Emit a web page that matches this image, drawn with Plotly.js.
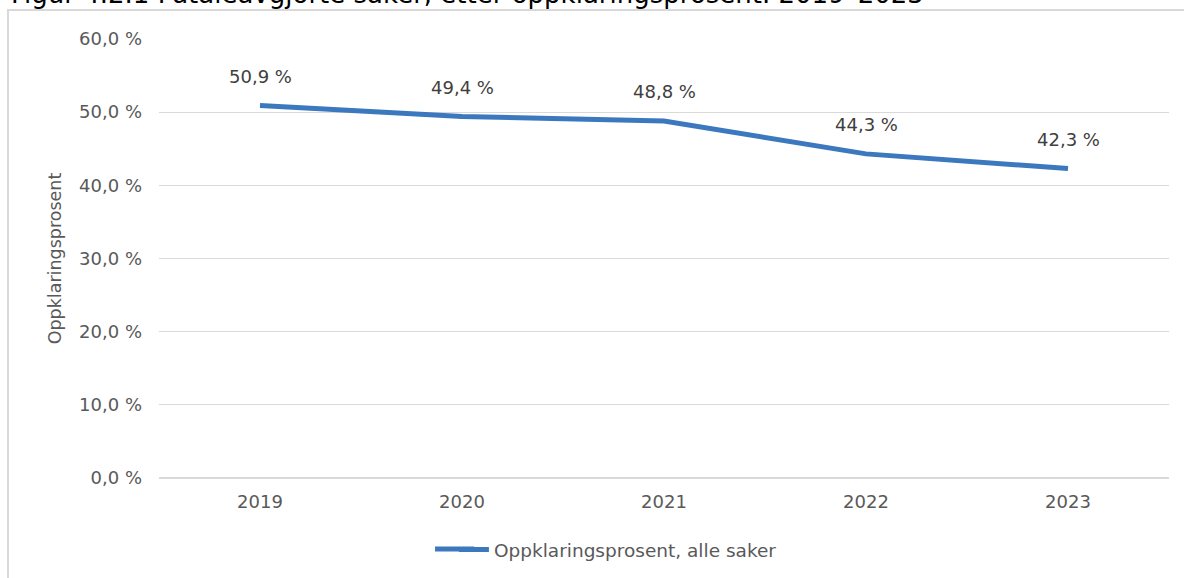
<!DOCTYPE html>
<html>
<head>
<meta charset="utf-8">
<script src="https://cdn.plot.ly/plotly-3.0.1.min.js"></script>
<style>
html,body{margin:0;padding:0;background:#fff;}
#chart{width:1184px;height:578px;}
</style>
</head>
<body>
<div id="chart"></div>
<script>
const years = ["2019", "2020", "2021", "2022", "2023"];
const rates = [50.9, 49.4, 48.8, 44.3, 42.3];
const seriesName = "Oppklaringsprosent, alle saker";
const yTitle = "Oppklaringsprosent";
const figTitle = "Figur 4.2.1 Påtaleavgjorte saker, etter oppklaringsprosent. 2019–2023";

const fmt = v => v.toFixed(1).replace(".", ",") + " %";
const FONT = "DejaVu Sans, Verdana, sans-serif";
const LINE_COLOR = "#3B78BE";

const trace = {
  x: years,
  y: rates,
  type: "scatter",
  mode: "lines",
  name: seriesName,
  line: {color: LINE_COLOR, width: 5},
  hoverinfo: "skip"
};

const annotations = years.map((yr, i) => ({
  x: i, y: rates[i], xref: "x", yref: "y",
  text: fmt(rates[i]), showarrow: false, yshift: 29,
  font: {family: FONT, size: 18, color: "#404040"}
}));
annotations.push({
  xref: "paper", yref: "paper", x: -0.149, y: 1, xanchor: "left", yanchor: "bottom",
  yshift: 28, text: figTitle, showarrow: false,
  font: {family: FONT, size: 26, color: "#000"}
});

const layout = {
  width: 1184, height: 578,
  margin: {l: 159, r: 15, t: 39, b: 100, autoexpand: false},
  paper_bgcolor: "#fff", plot_bgcolor: "#fff",
  separators: ", ",
  font: {family: FONT, size: 18, color: "#595959"},
  showlegend: true,
  legend: {orientation: "h", x: 0.292, xanchor: "left", y: -0.164, yanchor: "middle",
           bgcolor: "rgba(0,0,0,0)",
           font: {family: FONT, size: 18.5, color: "#595959"}},
  xaxis: {type: "category", range: [-0.5, 4.5], showgrid: false, showline: false,
          zeroline: false, ticks: "", ticklabelstandoff: 11,
          tickfont: {family: FONT, size: 18, color: "#595959"}},
  yaxis: {range: [0, 60], dtick: 10, tick0: 0, tickformat: ".1f", ticksuffix: " %",
          showgrid: true, gridcolor: "#D9D9D9", gridwidth: 1.3, zeroline: true,
          zerolinecolor: "#D9D9D9", zerolinewidth: 1.3, showline: false,
          ticks: "", ticklabelstandoff: 16,
          tickfont: {family: FONT, size: 18, color: "#595959"},
          title: {text: yTitle, font: {family: FONT, size: 17.5, color: "#595959"}, standoff: 12}},
  annotations: annotations,
  shapes: [
    {type: "rect", xref: "paper", yref: "paper",
     x0: -0.1495, x1: 1.05, y0: -0.3, y1: 1.066,
     line: {color: "#D9D9D9", width: 2}, fillcolor: "rgba(0,0,0,0)", layer: "below"},
    {type: "line", xref: "paper", yref: "paper",
     x0: 0.2733, x1: 0.312, y0: -0.1617, y1: -0.1617,
     line: {color: LINE_COLOR, width: 5}}
  ]
};

Plotly.newPlot("chart", [trace], layout, {displayModeBar: false, staticPlot: true});
</script>
</body>
</html>
